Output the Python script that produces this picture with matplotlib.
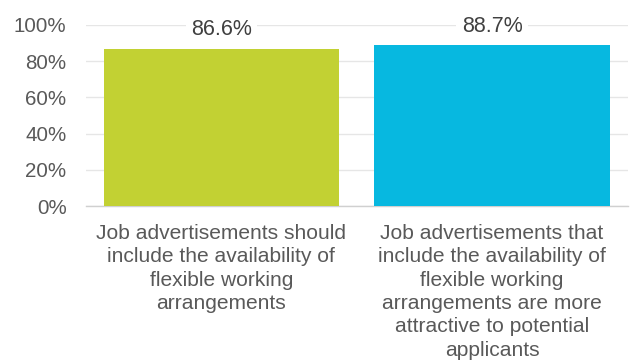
import matplotlib
matplotlib.use("Agg")
import matplotlib.pyplot as plt

categories = [
    "Job advertisements should\ninclude the availability of\nflexible working\narrangements",
    "Job advertisements that\ninclude the availability of\nflexible working\narrangements are more\nattractive to potential\napplicants",
]
values = [86.6, 88.7]
bar_colors = ["#c2d133", "#07b8e0"]
y_ticks = [0, 20, 40, 60, 80, 100]

plt.rcParams["font.family"] = ["Liberation Sans", "DejaVu Sans"]
text_color = "#595959"

fig = plt.figure(figsize=(6.33, 3.62), dpi=100)
W, H = 633, 362
ax = fig.add_axes([86 / W, 1 - 206 / H, (627.5 - 86) / W, (206 - 25) / H])

x = list(range(len(values)))
bars = ax.bar(x, values, width=0.87, color=bar_colors, zorder=3)

ax.set_xlim(-0.5, len(values) - 0.5)
ax.set_ylim(0, 100)
ax.set_yticks(y_ticks)
ax.set_yticklabels([f"{t}%" for t in y_ticks])
ax.yaxis.grid(True, color="#e6e6e6", linewidth=1.0, zorder=0)
ax.set_axisbelow(True)

ax.set_xticks(x)
ax.set_xticklabels(categories, linespacing=1.29)
ax.tick_params(axis="x", length=0, pad=13, labelsize=15.1, colors=text_color)
ax.tick_params(axis="y", length=0, pad=14, labelsize=14.8, colors=text_color)

for side in ["top", "right", "left"]:
    ax.spines[side].set_visible(False)
ax.spines["bottom"].set_color("#d0d0d0")
ax.spines["bottom"].set_linewidth(1.0)

for xi, v in zip(x, values):
    ax.annotate(f"{v:.1f}%", (xi, v), xytext=(0, 14), textcoords="offset points",
                ha="center", va="center", fontsize=15.5, color="#404040", zorder=5,
                bbox=dict(boxstyle="square,pad=0.25", fc="white", ec="none"))

fig.savefig("out.png", dpi=100)
